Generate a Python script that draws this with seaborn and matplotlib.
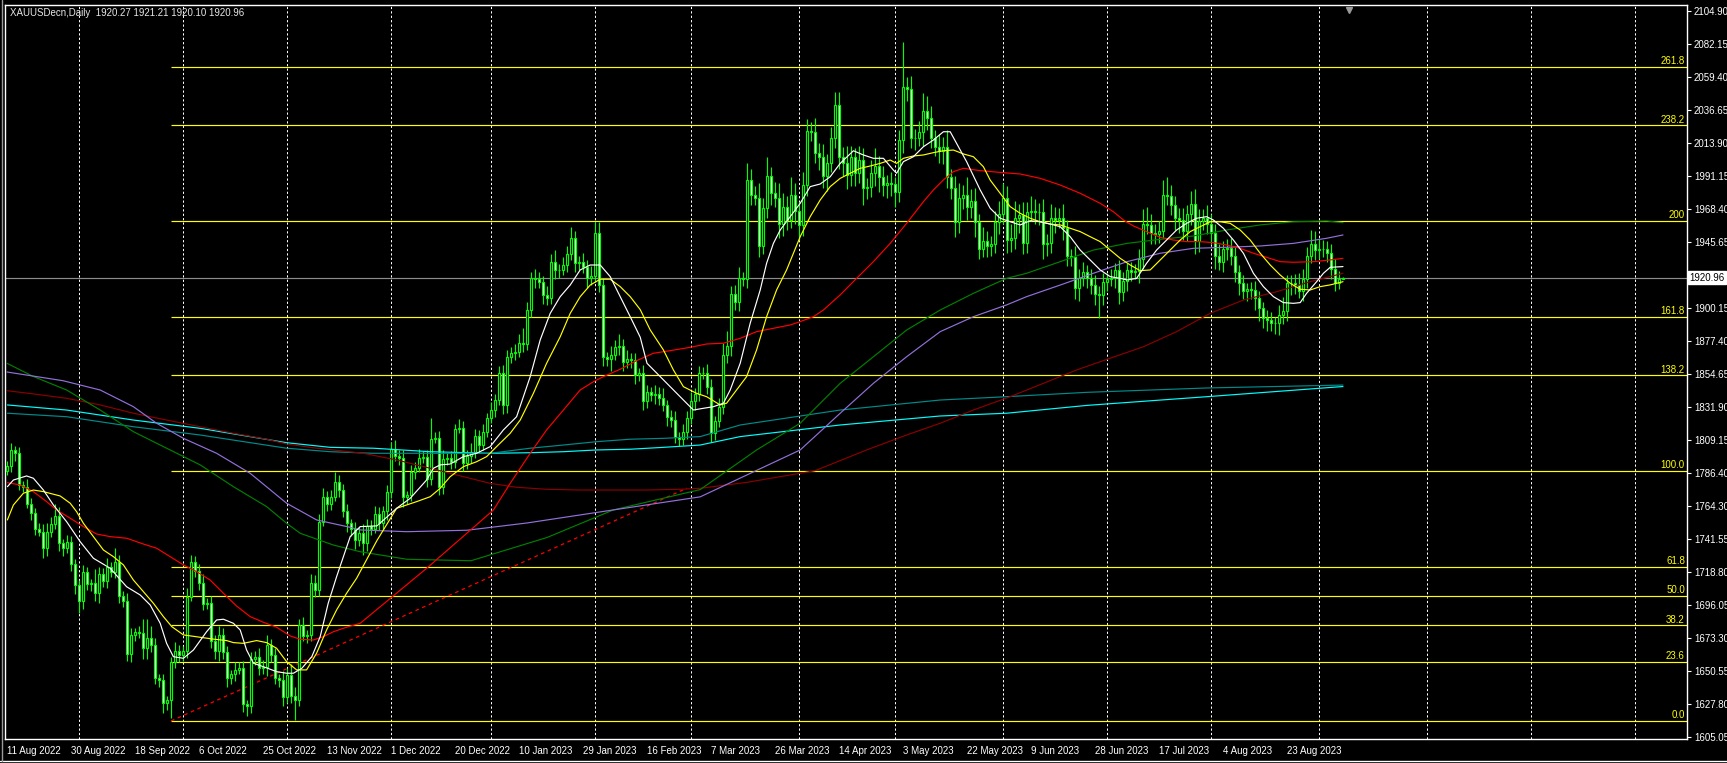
import numpy as np
import matplotlib
matplotlib.use("Agg")
import matplotlib.pyplot as plt
import matplotlib.transforms as mtransforms
from matplotlib.lines import Line2D
import seaborn as sns

sns.set_style("dark")
plt.rcParams['font.family'] = ['Liberation Sans', 'DejaVu Sans']

# ---------------- data: daily bars, bar 0 = 11 Aug 2022 ----------------
first_open = 1788
closes = [
    1791, 1802, 1800, 1778, 1777, 1765, 1759, 1748, 1746, 1735,
    1746, 1751, 1757, 1738, 1735, 1739, 1724, 1709, 1698, 1718,
    1710, 1710.5, 1704, 1717, 1712, 1722, 1718, 1725, 1702, 1698,
    1662, 1675, 1677, 1676, 1666, 1673, 1668, 1645, 1644, 1628,
    1630, 1656, 1664, 1661, 1664, 1701, 1725, 1719, 1711, 1696,
    1697, 1671, 1664, 1675, 1663, 1645, 1648, 1651, 1652, 1627,
    1626, 1658, 1660, 1652, 1652.5, 1668, 1661, 1645, 1644, 1632,
    1647, 1633, 1630, 1682, 1674, 1675, 1711, 1706, 1753, 1770,
    1765, 1770, 1780, 1775, 1760, 1752, 1748, 1740, 1745, 1738,
    1750, 1748, 1758, 1752, 1760, 1773, 1803, 1798, 1797, 1770,
    1771, 1787, 1790, 1797, 1797.5, 1782, 1810, 1810.5, 1777, 1796,
    1796.5, 1794, 1817, 1817.5, 1793, 1798, 1801, 1812, 1806, 1815,
    1824, 1830, 1837, 1855, 1833, 1866, 1869, 1870, 1876, 1875,
    1899, 1921, 1920, 1918, 1909, 1907, 1932, 1926, 1926.5, 1930,
    1937, 1948, 1931, 1932, 1928, 1921, 1922, 1952, 1916, 1866,
    1865, 1868, 1873, 1874, 1863, 1865, 1864, 1854, 1855, 1836,
    1842, 1840, 1841, 1838, 1833, 1825, 1823, 1811, 1810, 1815,
    1824, 1836, 1841, 1855, 1855.5, 1846, 1814, 1822, 1832, 1868,
    1874, 1910, 1904, 1921, 1920, 1988, 1978, 1976, 1943, 1969,
    1991, 1979, 1976, 1958, 1970, 1961, 1978, 1967, 1957, 1985,
    2022, 2021, 2007, 2004, 1991, 2000, 2017, 2040, 2004, 2000,
    1992, 2004, 1993, 2002, 1983, 1983.5, 1993, 1998, 1990, 1985,
    1986, 1985.5, 1980, 2016, 2052, 2051, 2017, 2017.5, 2021, 2036,
    2031, 2017, 2011, 2008, 2011, 1990, 1983, 1959, 1976, 1978,
    1970, 1974, 1959, 1941, 1946, 1943, 1944, 1959, 1965, 1976,
    1947, 1948, 1962, 1964, 1945, 1966, 1967, 1966, 1966.5, 1944,
    1945, 1962, 1961, 1962, 1955, 1936, 1935, 1914, 1921, 1925,
    1921, 1916, 1910, 1909, 1918, 1920, 1921, 1926, 1911, 1919,
    1926, 1925, 1925.5, 1934, 1958, 1957, 1952, 1951, 1953, 1978,
    1977, 1971, 1962, 1961, 1953, 1965, 1972, 1946, 1960, 1962,
    1958, 1952, 1936, 1932, 1941, 1941.5, 1936, 1925, 1917, 1912,
    1913, 1912.5, 1907, 1900, 1893, 1892, 1890, 1889.5, 1895, 1898,
    1917, 1917.5, 1916, 1912, 1920, 1936, 1944, 1940, 1940.5, 1941,
    1938, 1927, 1917, 1920.27, 1920.96,
]
upper_wick = [
    4, 5, 3, 4, 3, 5, 4, 3, 4, 5,
    6, 5, 8, 6, 3, 5, 4, 3, 4, 5,
    4, 3, 10, 5, 4, 6, 3, 10, 5, 3,
    6, 5, 3, 4, 10, 13, 8, 5, 3, 4,
    3, 4, 6, 4, 3, 6, 5, 4, 5, 6,
    3, 5, 4, 6, 5, 4, 3, 5, 4, 5,
    3, 5, 4, 6, 5, 7, 4, 5, 3, 6,
    5, 8, 6, 4, 5, 3, 6, 5, 5, 6,
    4, 5, 7, 5, 4, 5, 3, 5, 4, 6,
    5, 4, 6, 5, 4, 5, 5, 6, 4, 5,
    3, 5, 4, 6, 4, 5, 14, 4, 5, 6,
    4, 5, 3, 6, 5, 4, 6, 5, 4, 5,
    4, 5, 4, 5, 6, 5, 4, 5, 6, 10,
    5, 4, 6, 5, 4, 6, 5, 8, 4, 5,
    6, 8, 5, 4, 6, 5, 7, 7, 7, 5,
    4, 6, 5, 8, 5, 6, 4, 5, 4, 6,
    5, 4, 6, 5, 7, 4, 5, 6, 4, 5,
    5, 6, 4, 5, 4, 6, 5, 4, 6, 8,
    10, 5, 6, 7, 4, 12, 8, 6, 10, 7,
    13, 6, 8, 10, 9, 7, 12, 8, 6, 9,
    8, 6, 10, 7, 9, 6, 8, 9, 9, 7,
    12, 8, 6, 10, 8, 6, 9, 12, 7, 8,
    6, 8, 5, 7, 31, 7, 9, 6, 8, 12,
    10, 8, 6, 9, 7, 12, 6, 8, 10, 7,
    12, 8, 9, 6, 10, 7, 6, 8, 9, 10,
    8, 10, 12, 8, 9, 7, 10, 8, 6, 9,
    6, 10, 8, 7, 10, 6, 5, 8, 6, 7,
    5, 6, 7, 5, 6, 4, 6, 5, 7, 6,
    5, 6, 5, 7, 10, 12, 8, 6, 7, 10,
    12, 8, 6, 7, 8, 6, 9, 10, 8, 6,
    9, 7, 6, 8, 5, 6, 7, 6, 5, 6,
    4, 5, 6, 5, 4, 6, 5, 4, 7, 10,
    6, 5, 6, 8, 7, 6, 10, 9, 8, 6,
    5, 6, 7, 5, 0.25,
]
lower_wick = [
    3, 4, 5, 3, 4, 3, 5, 4, 3, 7,
    6, 4, 3, 5, 6, 4, 5, 6, 8, 5,
    4, 5, 6, 7, 4, 5, 3, 4, 5, 4,
    5, 6, 4, 3, 8, 8, 5, 4, 5, 7,
    5, 12, 4, 5, 4, 5, 3, 4, 5, 4,
    3, 5, 6, 7, 5, 6, 4, 5, 3, 5,
    7, 5, 4, 5, 4, 6, 5, 4, 5, 6,
    4, 5, 14, 4, 3, 5, 4, 5, 4, 3,
    5, 4, 3, 5, 4, 6, 5, 6, 4, 8,
    5, 4, 3, 5, 4, 6, 4, 3, 5, 7,
    5, 4, 5, 3, 4, 5, 4, 3, 6, 5,
    4, 5, 4, 3, 5, 4, 5, 4, 5, 4,
    4, 3, 5, 4, 6, 5, 4, 5, 4, 5,
    4, 5, 6, 4, 6, 5, 4, 6, 5, 4,
    5, 4, 6, 5, 4, 7, 5, 4, 5, 6,
    5, 8, 4, 5, 6, 4, 5, 6, 4, 6,
    5, 4, 6, 5, 4, 6, 5, 4, 5, 4,
    5, 4, 6, 5, 4, 5, 6, 5, 4, 5,
    6, 7, 5, 6, 5, 6, 7, 5, 8, 6,
    7, 8, 6, 10, 8, 7, 6, 9, 10, 7,
    8, 6, 7, 9, 8, 10, 6, 7, 8, 9,
    10, 8, 9, 7, 12, 8, 7, 9, 10, 8,
    9, 8, 10, 7, 9, 8, 7, 8, 6, 9,
    8, 7, 6, 8, 9, 7, 8, 10, 7, 8,
    9, 8, 10, 7, 6, 8, 7, 6, 8, 7,
    9, 8, 7, 10, 8, 7, 6, 8, 9, 10,
    8, 7, 9, 6, 8, 7, 6, 8, 9, 6,
    7, 6, 8, 16, 7, 6, 5, 7, 8, 6,
    7, 6, 5, 8, 7, 6, 8, 7, 6, 5,
    6, 7, 8, 9, 6, 7, 8, 9, 7, 6,
    7, 8, 9, 6, 7, 8, 6, 7, 8, 6,
    7, 6, 8, 9, 7, 8, 6, 7, 8, 6,
    7, 8, 6, 5, 7, 6, 5, 7, 6, 5,
    6, 7, 5, 4, 0.17,
]

# ---------------- moving averages (bar, price) ----------------
white_bar = [0.1, 1.6, 4.9, 6.6, 9.1, 11.6, 14.9, 18.3, 21.6, 25.8, 29.9, 33.3, 35.8, 38.3, 39.9, 41.6,
             44.1, 46.6, 49.9, 52.4, 54.1, 56.6, 58.3, 59.9, 61.6, 64.1, 67.4, 69.9, 71.6, 73.7, 76.2,
             78.3, 80.3, 82.4, 84.1, 85.8, 88.3, 92.5, 97.4, 100.8, 104.9, 106.6, 108.3, 110.8, 114.1,
             117.4, 120.8, 124.1, 127.4, 130.8, 133.3, 135.8, 138.3, 140.8, 143.3, 145.8, 148.3, 150.8,
             153.3, 155.8, 158.3, 160.0, 163.3, 166.6, 169.1, 171.6, 174.1, 176.6, 179.1, 180.8, 183.3,
             185.8, 188.3, 189.9, 191.6, 193.3, 195.8, 198.3, 200.8, 203.3, 205.8, 208.3, 211.6, 214.1,
             216.6, 219.1, 221.6, 222.4, 224.1, 226.6, 229.1, 231.6, 234.1, 235.8, 237.4, 239.9, 243.3,
             245.8, 248.3, 250.8, 253.3, 255.8, 258.3, 260.8, 263.3, 265.8, 268.3, 270.8, 273.3, 275.8,
             278.3, 280.0, 282.4, 284.9, 287.4, 289.9, 292.4, 294.9, 297.4, 299.9, 301.6, 304.1, 306.6,
             309.1, 311.6, 314.1, 316.6, 319.1, 321.6, 323.3, 324.9, 327.4, 329.1, 330.8, 334.0]
white_px = [1777.0, 1781.6, 1784.4, 1782.8, 1774.7, 1764.4, 1752.9, 1739.1, 1727.7, 1720.8, 1708.1,
            1702.4, 1695.5, 1682.9, 1669.1, 1659.9, 1658.8, 1664.5, 1677.1, 1685.2, 1685.7, 1682.9,
            1678.3, 1664.5, 1655.4, 1653.0, 1649.6, 1648.5, 1648.5, 1651.9, 1659.9, 1673.7, 1696.7,
            1715.0, 1728.8, 1742.6, 1749.5, 1750.0, 1762.1, 1769.0, 1781.6, 1789.7, 1792.0, 1792.6,
            1797.7, 1800.0, 1804.6, 1816.1, 1825.2, 1852.8, 1878.1, 1896.4, 1907.9, 1915.9, 1926.3,
            1929.7, 1929.7, 1921.7, 1907.9, 1894.1, 1880.0, 1862.0, 1852.8, 1843.6, 1836.7, 1829.8,
            1831.0, 1832.1, 1834.5, 1843.6, 1862.0, 1889.6, 1912.5, 1930.9, 1944.6, 1953.8, 1963.0,
            1972.2, 1983.7, 1985.5, 1990.5, 1999.7, 2008.4, 2005.5, 2003.2, 2003.2, 1995.1, 1992.9,
            2000.9, 2004.3, 2011.2, 2015.8, 2021.5, 2021.5, 2013.5, 2000.9, 1981.4, 1968.8, 1961.9,
            1959.5, 1957.3, 1960.2, 1959.5, 1957.9, 1956.1, 1949.2, 1940.0, 1933.2, 1926.3, 1921.7,
            1920.5, 1919.4, 1920.5, 1930.9, 1940.0, 1946.9, 1953.8, 1958.4, 1961.9, 1963.0, 1960.7,
            1955.0, 1946.9, 1937.8, 1924.0, 1914.8, 1907.9, 1903.8, 1903.3, 1903.8, 1910.2, 1918.2,
            1924.0, 1928.1, 1928.6]

yellow_bar = [0.1, 1.6, 4.1, 6.6, 9.1, 13.3, 15.8, 17.4, 19.1, 21.6, 24.1, 26.6, 29.1, 31.6, 34.1, 36.6,
              39.1, 41.2, 44.1, 48.3, 51.6, 54.9, 56.6, 59.1, 62.4, 64.9, 67.4, 69.9, 72.4, 74.9, 77.4,
              79.9, 82.4, 84.9, 87.4, 92.5, 97.4, 102.4, 105.8, 108.3, 110.8, 114.1, 117.4, 119.9, 122.4,
              125.8, 128.3, 131.6, 134.9, 138.3, 140.8, 143.3, 145.8, 148.3, 150.8, 153.3, 155.8, 158.3,
              160.8, 164.1, 166.6, 169.1, 172.4, 174.9, 178.3, 179.9, 182.4, 184.9, 187.4, 189.9, 192.4,
              194.9, 198.3, 200.8, 203.3, 205.8, 208.3, 210.8, 213.3, 215.8, 218.3, 220.8, 222.4, 224.1,
              226.6, 229.1, 231.6, 234.1, 236.6, 239.1, 241.6, 244.1, 245.8, 248.3, 250.8, 253.3, 255.8,
              258.3, 260.8, 263.3, 265.8, 268.3, 270.8, 273.3, 275.8, 278.3, 280.8, 283.3, 285.8, 288.3,
              290.8, 293.3, 295.8, 298.3, 300.8, 303.3, 305.8, 308.3, 310.8, 313.3, 315.8, 318.3, 320.8,
              323.3, 325.8, 328.3, 330.8, 334.0]
yellow_px = [1754.1, 1764.4, 1772.5, 1774.7, 1773.6, 1770.6, 1765.6, 1759.8, 1751.8, 1742.6, 1733.4,
             1728.8, 1723.1, 1712.7, 1704.7, 1696.7, 1687.5, 1680.6, 1674.9, 1673.3, 1672.0, 1671.0,
             1669.6, 1669.1, 1671.0, 1669.6, 1665.7, 1656.5, 1650.8, 1650.8, 1662.3, 1678.3, 1692.1,
             1703.6, 1713.9, 1740.0, 1762.1, 1766.7, 1770.1, 1775.9, 1783.9, 1790.8, 1794.2, 1797.7,
             1804.6, 1813.8, 1822.9, 1841.3, 1862.0, 1880.3, 1896.4, 1907.9, 1915.9, 1919.9, 1919.9,
             1914.8, 1907.9, 1899.0, 1885.0, 1871.2, 1857.4, 1845.9, 1841.3, 1839.0, 1833.3, 1834.5,
             1843.6, 1852.8, 1871.2, 1894.1, 1912.5, 1926.3, 1949.2, 1963.0, 1974.5, 1983.7, 1989.4,
             1992.9, 1996.3, 1997.9, 1999.7, 2002.0, 1999.7, 2003.2, 2004.8, 2005.5, 2007.1, 2008.4,
             2008.9, 2006.2, 2004.3, 1997.4, 1988.2, 1979.1, 1969.9, 1965.3, 1961.9, 1959.5, 1957.9,
             1957.3, 1955.0, 1952.7, 1949.2, 1945.8, 1940.0, 1934.3, 1929.7, 1925.8, 1926.3, 1933.2,
             1940.0, 1946.9, 1952.7, 1956.1, 1959.5, 1959.5, 1958.4, 1953.8, 1946.9, 1937.8, 1929.7,
             1922.8, 1917.1, 1913.0, 1912.5, 1914.8, 1916.0, 1918.2]

red_bar = [0.1, 3.3, 6.6, 9.9, 12.4, 15.8, 19.1, 22.4, 25.8, 29.9, 34.1, 37.4, 40.8, 44.1, 47.4, 50.8,
           54.1, 57.4, 60.8, 64.1, 67.4, 70.8, 73.3, 76.6, 79.1, 81.6, 84.9, 88.3, 105.0, 121.6, 125.8,
           130.8, 134.9, 139.1, 143.3, 146.6, 149.1, 153.3, 157.4, 161.6, 165.8, 170.8, 174.9, 179.1,
           183.3, 187.4, 191.6, 195.8, 198.3, 201.6, 204.1, 208.3, 212.4, 216.6, 220.8, 224.9, 229.1,
           231.6, 234.1, 236.6, 239.1, 243.3, 249.1, 253.3, 258.3, 263.3, 268.3, 273.3, 276.6, 279.1,
           281.6, 284.9, 288.3, 291.6, 294.9, 298.3, 301.6, 304.9, 308.3, 311.6, 314.9, 318.3, 321.6,
           326.6, 330.8, 334.0]
red_px = [1779.8, 1778.2, 1773.6, 1766.7, 1761.0, 1755.3, 1749.5, 1744.4, 1742.6, 1741.5, 1737.5, 1734.6,
          1728.8, 1723.1, 1718.5, 1712.7, 1703.6, 1694.8, 1687.5, 1683.6, 1680.2, 1674.2, 1671.9, 1671.4,
          1673.7, 1677.1, 1680.2, 1682.9, 1721.0, 1760.9, 1779.3, 1800.0, 1816.1, 1829.8, 1843.6, 1849.3,
          1852.8, 1857.9, 1863.8, 1868.9, 1870.7, 1873.0, 1875.3, 1875.8, 1879.2, 1883.8, 1886.1, 1888.4,
          1890.7, 1894.1, 1898.7, 1909.1, 1920.5, 1932.0, 1944.6, 1958.4, 1973.3, 1981.4, 1988.3, 1994.0,
          1996.3, 1994.7, 1993.3, 1992.4, 1989.4, 1984.8, 1979.1, 1972.2, 1966.4, 1960.7, 1956.6, 1952.7,
          1948.8, 1946.9, 1945.8, 1945.8, 1945.1, 1943.5, 1941.2, 1937.8, 1935.0, 1932.0, 1931.6, 1932.0,
          1933.2, 1934.3]

maroon_bar = [0.1, 6.6, 14.9, 23.3, 31.6, 39.9, 48.3, 56.6, 64.9, 69.9, 77.4, 81.6, 89.1, 97.4, 105.8,
              114.1, 120.8, 127.4, 134.9, 143.3, 151.6, 159.9, 168.3, 173.3, 185.0, 202.0, 214.9, 224.9,
              233.3, 241.6, 250.8, 267.4, 275.8, 284.1, 292.4, 300.8, 309.1, 317.4, 325.8, 334.0]
maroon_px = [1843.1, 1840.9, 1837.9, 1833.3, 1827.6, 1822.9, 1818.3, 1813.8, 1809.7, 1806.4, 1803.5,
             1802.3, 1800.0, 1795.4, 1789.7, 1783.9, 1779.3, 1776.6, 1775.2, 1774.7, 1774.7, 1774.7,
             1775.2, 1775.9, 1780.0, 1788.0, 1802.3, 1812.6, 1820.7, 1829.8, 1839.0, 1857.4, 1865.5,
             1873.4, 1883.8, 1896.4, 1905.6, 1911.3, 1918.2, 1924.0]

green_bar = [0.0, 6.5, 14.9, 23.3, 31.6, 39.9, 48.3, 56.6, 64.9, 69.9, 73.3, 81.6, 88.3, 100.0, 116.0,
             135.0, 151.6, 173.3, 187.4, 198.3, 208.3, 216.6, 224.9, 233.3, 241.6, 249.9, 254.9, 263.3,
             271.6, 280.0, 288.3, 296.6, 304.9, 313.3, 321.6, 329.9, 334.0]
green_px = [1862.0, 1853.0, 1843.6, 1829.8, 1814.9, 1803.5, 1792.0, 1777.0, 1763.3, 1751.8, 1744.9, 1736.8,
            1732.2, 1727.0, 1726.0, 1742.0, 1761.0, 1775.0, 1802.3, 1820.7, 1848.2, 1866.5, 1884.9,
            1898.7, 1910.2, 1920.5, 1924.0, 1932.0, 1940.0, 1944.6, 1947.4, 1949.7, 1953.8, 1957.3,
            1959.5, 1960.0, 1958.9]

purple_bar = [0.0, 14.0, 23.3, 31.6, 37.4, 44.1, 52.4, 60.8, 69.9, 77.4, 85.8, 88.3, 100.0, 115.0, 130.0,
              151.6, 173.3, 198.3, 208.3, 216.6, 224.9, 233.3, 241.6, 249.9, 254.9, 263.3, 271.6, 280.0,
              288.3, 296.6, 304.9, 313.3, 321.6, 329.9, 334.0]
purple_px = [1856.0, 1850.0, 1843.6, 1832.1, 1820.7, 1810.3, 1800.0, 1786.2, 1765.6, 1754.1, 1749.0,
             1747.2, 1746.0, 1747.0, 1752.0, 1761.0, 1770.0, 1802.3, 1827.6, 1848.2, 1866.5, 1883.8,
             1894.1, 1902.2, 1907.9, 1915.9, 1924.0, 1932.0, 1937.8, 1941.2, 1941.9, 1942.8, 1944.6,
             1948.1, 1950.4]

cyan_bar = [0.1, 14.9, 31.6, 48.3, 69.9, 80.8, 91.6, 105.8, 120.8, 130.8, 139.1, 147.4, 155.8, 164.1,
            173.3, 183.3, 208.3, 233.3, 249.9, 270.0, 300.0, 334.0]
cyan_px = [1833.3, 1829.8, 1822.9, 1817.2, 1807.3, 1804.1, 1803.5, 1801.1, 1800.0, 1800.4, 1801.1, 1802.3,
           1802.8, 1804.1, 1805.7, 1811.5, 1819.5, 1825.7, 1827.6, 1833.0, 1839.0, 1846.0]

teal_bar = [0.1, 14.9, 31.6, 48.3, 69.9, 80.8, 91.6, 105.8, 120.8, 130.8, 139.1, 147.4, 155.8, 164.1,
            173.3, 183.3, 208.3, 233.3, 249.9, 270.0, 300.0, 334.0]
teal_px = [1827.6, 1825.2, 1818.3, 1812.6, 1803.5, 1801.1, 1800.0, 1800.0, 1800.0, 1803.5, 1805.7, 1808.0,
           1809.7, 1810.3, 1811.5, 1819.5, 1829.8, 1836.7, 1839.0, 1842.0, 1845.0, 1847.0]

# dotted trend line from the October low
trend_bar = [41, 170]
trend_px = [1615.6, 1776.0]

# fibonacci expansion levels
fib_levels = [1615.6, 1656.2, 1681.4, 1701.7, 1722.0, 1787.8, 1853.6, 1894.2, 1960.0, 2025.8, 2066.4]
fib_labels = ['0.0', '23.6', '38.2', '50.0', '61.8', '100.0', '138.2', '161.8', '200', '238.2', '261.8']
fib_start_bar = 41

date_labels = ['11 Aug 2022', '30 Aug 2022', '18 Sep 2022', '6 Oct 2022', '25 Oct 2022', '13 Nov 2022',
               '1 Dec 2022', '20 Dec 2022', '10 Jan 2023', '29 Jan 2023', '16 Feb 2023', '7 Mar 2023',
               '26 Mar 2023', '14 Apr 2023', '3 May 2023', '22 May 2023', '9 Jun 2023', '28 Jun 2023',
               '17 Jul 2023', '4 Aug 2023', '23 Aug 2023']
month_start_bars = [18, 44, 70, 96, 121, 147, 171, 198, 222, 249, 275, 301, 328, 355, 381, 407]
# 1922.90 sits under the current-price tag in the reference, so it stays blank
price_labels = ['2104.90', '2082.15', '2059.40', '2036.65', '2013.90', '1991.15', '1968.40', '1945.65',
                '', '1900.15', '1877.40', '1854.65', '1831.90', '1809.15', '1786.40', '1764.30',
                '1741.55', '1718.80', '1696.05', '1673.30', '1650.55', '1627.80', '1605.05']
last_price = 1920.96
title = 'XAUUSDecn,Daily  1920.27 1921.21 1920.10 1920.96'

# ---------------- figure ----------------
W, H = 1727, 763
fig = plt.figure(figsize=(W / 100, H / 100), dpi=100, facecolor='black')
ax = fig.add_axes([5 / W, (H - 739) / H, (1687 - 5) / W, (739 - 5) / H])
ax.set_facecolor('black')
ax.grid(False)
ax.set_xlim(-0.5, 420)
ax.set_ylim(1603.2, 2108.8)

lime = '#00ff00'
px = 0.72  # one pixel in points

# month grid
for b in month_start_bars:
    ax.axvline(b, color='white', lw=px, ls=(0, (2.2, 2.2)), zorder=1)

# fibo levels
ax.hlines(fib_levels, fib_start_bar, 420, color='#ffff00', lw=0.85, zorder=2)
for lvl, lab in zip(fib_levels, fib_labels):
    ax.annotate(lab, xy=(1, lvl), xycoords=('axes fraction', 'data'), xytext=(-1.5, 0.6),
                textcoords='offset points', ha='right', va='bottom', color='#ffff00', fontsize=7, zorder=8)

# current price line
ax.axhline(last_price, color='#8c8c8c', lw=0.85, zorder=2)

# trend line
ax.plot(trend_bar, trend_px, color='#ff0000', lw=0.9, ls=(0, (2.9, 2.9)), zorder=3)

# moving averages
ma_specs = [
    (cyan_bar, cyan_px, '#00ffff'),
    (teal_bar, teal_px, '#008b8b'),
    (maroon_bar, maroon_px, '#8b0000'),
    (green_bar, green_px, '#008000'),
    (purple_bar, purple_px, '#9370db'),
    (red_bar, red_px, '#ff0000'),
    (yellow_bar, yellow_px, '#ffff00'),
    (white_bar, white_px, '#ffffff'),
]
for xb, yp, col in ma_specs:
    sns.lineplot(x=xb, y=yp, ax=ax, color=col, lw=0.85, estimator=None, sort=False, zorder=6)

# candles
n = len(closes)
bars = np.arange(n)
c = np.array(closes, dtype=float)
o = np.array([first_open] + closes[:-1], dtype=float)
hi = np.maximum(o, c) + np.array(upper_wick)
lo = np.minimum(o, c) - np.array(lower_wick)
ax.vlines(bars, lo, hi, color=lime, lw=px + 0.1, zorder=4)
body_bottom = np.minimum(o, c)
body_h = np.maximum(np.abs(c - o), 0.35)
face = ['black' if cc >= oo else 'white' for oo, cc in zip(o, c)]
ax.bar(bars, body_h, bottom=body_bottom, width=0.5, color=face, edgecolor=lime, linewidth=px + 0.1, zorder=5)

# chart-shift marker
ax.plot([335.5], [0.993], marker='v', color='#9a9a9a', markersize=5, transform=ax.get_xaxis_transform(),
        clip_on=False, zorder=9)

# axes cosmetics
for side in ['top', 'bottom', 'left', 'right']:
    ax.spines[side].set_color('white')
    ax.spines[side].set_linewidth(1.0)
ax.set_xlabel('')
ax.set_ylabel('')

ax.set_xticks(np.arange(len(date_labels)) * 16)
ax.set_xticklabels(date_labels, ha='left')
ax.tick_params(axis='x', colors='white', labelsize=7, length=3, width=0.8, pad=2, direction='out')

tick_pos = 2104.90 - 22.75 * np.arange(len(price_labels))
ax.yaxis.tick_right()
ax.set_yticks(tick_pos)
ax.set_yticklabels(price_labels)
ax.tick_params(axis='y', colors='white', labelsize=7, length=3, width=0.8, pad=2, direction='out',
               left=False, right=True, labelleft=False, labelright=True)

# current price tag
trans = mtransforms.blended_transform_factory(ax.transAxes, ax.transData)
ax.text(1.0015, last_price, f'{last_price:.2f}', transform=trans, ha='left', va='center', fontsize=7,
        color='black', zorder=10, clip_on=False,
        bbox=dict(boxstyle='square,pad=0.15', facecolor='white', edgecolor='white'))

# title
fig.text(10 / W, 1 - 13 / H, title, color='#e6e6e6', fontsize=7, va='center', ha='left', zorder=10)

# window frame lines
fig.add_artist(Line2D([0, 1], [1 - 761 / H, 1 - 761 / H], color='white', lw=1.0))
fig.add_artist(Line2D([1.5 / W, 1.5 / W], [1 - 761 / H, 1], color='#9a9a9a', lw=1.0))

fig.savefig('out.png', dpi=100, facecolor='black')
